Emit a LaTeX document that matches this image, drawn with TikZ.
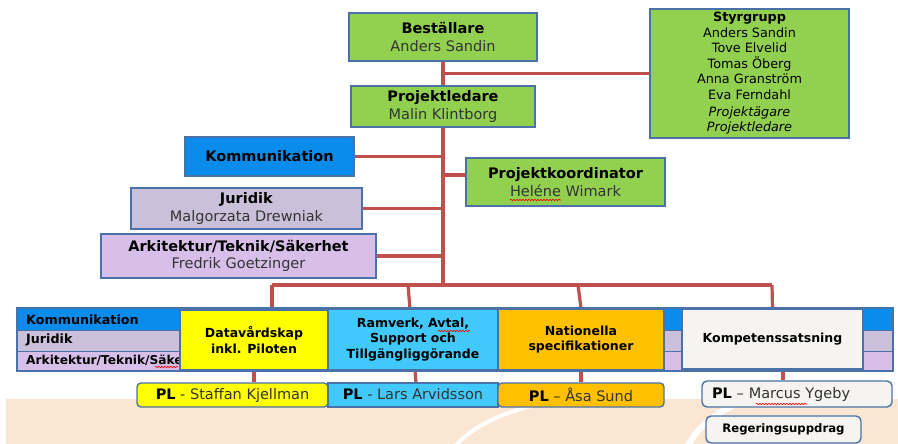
\documentclass[tikz,border=0pt]{standalone}
\usepackage{fontspec}
\setmainfont{DejaVu Sans}
\usetikzlibrary{decorations.pathmorphing,calc}
\definecolor{grn}{HTML}{92D050}
\definecolor{bord}{HTML}{4A72A8}
\definecolor{linkred}{HTML}{C0504D}
\definecolor{kblue}{HTML}{0A8CEC}
\definecolor{jur}{HTML}{CBC0DA}
\definecolor{ark}{HTML}{D8BFEA}
\definecolor{yel}{HTML}{FFFF00}
\definecolor{lblue}{HTML}{40C9FA}
\definecolor{org}{HTML}{FFC000}
\definecolor{offw}{HTML}{F6F4F0}
\definecolor{peach}{HTML}{FBE6D3}
\definecolor{txtg}{HTML}{333333}
\pgfdeclarelayer{bg}\pgfdeclarelayer{lines}\pgfsetlayers{bg,lines,main}
\tikzset{
  box/.style={draw=bord, line width=1.4pt, inner sep=0pt, align=center},
  big/.style={font=\fontsize{14.5}{17.5}\selectfont},
  small/.style={font=\fontsize{12.5}{15.5}\selectfont\bfseries},
  link/.style={draw=linkred, line width=3.2pt},
  wavy/.style={draw=red, line width=0.6pt, decorate, decoration={snake, amplitude=0.8pt, segment length=3pt}},
  lbl/.style={anchor=west, inner sep=0pt, font=\fontsize{12.7}{14}\selectfont\bfseries}
}
\begin{document}
\begin{tikzpicture}[x=1pt,y=-1pt]
\useasboundingbox (0,0) rectangle (898,444);
\begin{pgfonlayer}{bg}
  \fill[white] (0,0) rectangle (898,444);
  \fill[peach] (6,399) rectangle (898,444);
  \draw[white, line width=4pt] (455,446) .. controls (480,418) and (530,402) .. (585,397);
  \draw[white, line width=6pt] (688,446) .. controls (700,422) and (725,405) .. (762,396);
\end{pgfonlayer}

% upper boxes
\node[box, big, fill=grn, minimum width=188, minimum height=48] (best) at (443,37)
  {\textbf{Beställare}\\{\color{txtg}Anders Sandin}};
\node[box, big, fill=grn, minimum width=184, minimum height=41] (proj) at (443,106.5)
  {\textbf{Projektledare}\\{\color{txtg}Malin Klintborg}};
\node[box, fill=grn, minimum width=199, minimum height=129, font=\fontsize{12.8}{15.5}\selectfont] (styr) at (749.5,73.5)
  {\textbf{Styrgrupp}\\Anders Sandin\\Tove Elvelid\\Tomas Öberg\\Anna Granström\\Eva Ferndahl\\[1.5pt]\textit{Projektägare}\\\textit{Projektledare}};
\node[box, big, fill=kblue, minimum width=169, minimum height=39] (komm) at (269.5,156.5)
  {\textbf{Kommunikation}};
\node[box, big, fill=grn, minimum width=199, minimum height=48] (pk) at (565.5,182)
  {\textbf{Projektkoordinator}\\{\color{txtg}Heléne Wimark}};
\node[box, big, fill=jur, minimum width=231, minimum height=41] (jur) at (246.5,208.5)
  {\textbf{Juridik}\\{\color{txtg}Malgorzata Drewniak}};
\node[box, big, fill=ark, minimum width=275, minimum height=44] (ark) at (238.5,256)
  {\textbf{Arkitektur/Teknik/Säkerhet}\\{\color{txtg}Fredrik Goetzinger}};

% band
\fill[kblue] (17,308) rectangle (893,330);
\fill[jur] (17,330) rectangle (893,351);
\fill[ark] (17,351) rectangle (893,371);
\draw[bord, line width=1pt] (17,330) -- (893,330) (17,351) -- (893,351);
\draw[bord, line width=1.4pt] (17,308) rectangle (893,371);
\node[lbl] (bk) at (26,320) {Kommunikation};
\node[lbl] (bj) at (26,340) {Juridik};
\node[lbl, font=\fontsize{12.2}{13}\selectfont\bfseries] (ba) at (26,360.5) {Arkitektur/Teknik/Säkerhet};
\draw[wavy] (155,367) -- (178,367);

\node[box, small, fill=yel, minimum width=148, minimum height=60] (dv) at (254,340)
  {Datavårdskap\\inkl. Piloten};
\node[box, small, fill=lblue, minimum width=170, minimum height=61] (rv) at (413,339.5)
  {Ramverk, Avtal,\\Support och\\Tillgängliggörande};
\node[box, small, fill=org, minimum width=166, minimum height=61] (nat) at (581,339.5)
  {Nationella\\specifikationer};
\node[box, small, fill=offw, minimum width=181, minimum height=60] (komp) at (772.5,339)
  {Kompetenssatsning};

% PL row
\node[box, big, fill=yel, rounded corners=4pt, minimum width=191, minimum height=24] (pl1) at (232.5,395)
  {\textbf{PL} {\color{txtg}- Staffan Kjellman}};
\node[box, big, fill=lblue, minimum width=170, minimum height=24] (pl2) at (413,395)
  {\raisebox{2.5pt}{\textbf{PL} {\color{txtg}- Lars Arvidsson}}};
\node[box, big, fill=org, rounded corners=4pt, minimum width=166, minimum height=24] (pl3) at (581,395)
  {\textbf{PL} {\color{txtg}– Åsa Sund}};
\node[box, big, fill=offw, rounded corners=5pt, minimum width=190, minimum height=26, text width=170, align=left] (pl4) at (797,394)
  {\textbf{PL} {\color{txtg}– Marcus Ygeby}};
\node[box, fill=offw, rounded corners=5pt, minimum width=155, minimum height=27, font=\fontsize{11.7}{13}\selectfont\bfseries] (reg) at (783.5,429.5)
  {Regeringsuppdrag};

% connectors
\coordinate (barL) at (272,285);
\coordinate (barR) at (772,285);
\coordinate (barRv) at (408,285);
\coordinate (rvlow) at (416,383);
\coordinate (barN) at (578,285);
\coordinate (kd) at (783,369);
\begin{pgfonlayer}{lines}
  \draw[link] (best.south) -- (proj.north);
  \draw[link] (styr.west) -- (styr.west -| best.south);
  \draw[link] (proj.south) -- (proj.south |- barL);
  \draw[link] (barL) -- (barR);
  \draw[link] (komm.east) -- (komm.east -| proj.south);
  \draw[link] (jur.east) -- (jur.east -| proj.south);
  \draw[link] (ark.east) -- (ark.east -| proj.south);
  \draw[link] ([yshift=7pt]pk.west) -- ([yshift=7pt]pk.west -| proj.south);
  \draw[link] (barL) -- (barL |- dv.north);
  \draw[link] (barRv) -- (rvlow);
  \draw[link] (barN) -- (nat.north);
  \draw[link] (barR) -- (komp.north);
  \draw[link] (dv.south) -- (dv.south |- pl1.north);
  \draw[link] (nat.south) -- (pl3.north);
  \draw[link] (kd) -- (kd |- pl4.north);
\end{pgfonlayer}

% spelling marks
\draw[wavy] (510,200) -- (561,200);
\draw[wavy] (438,331) -- (470,331);
\draw[wavy] (756,404) -- (807,404);
\end{tikzpicture}
\end{document}
